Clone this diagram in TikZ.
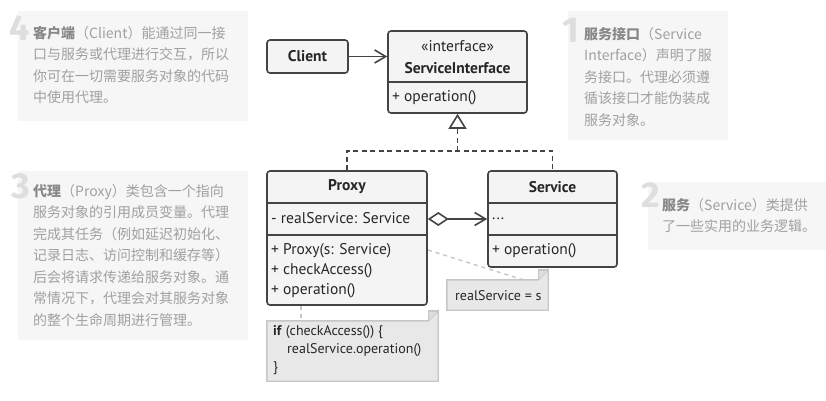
\documentclass[tikz,border=0pt]{standalone}
\usepackage{fontspec}
\setmainfont{PT Sans}
\newfontfamily\cjk{Noto Sans CJK SC}
\newfontfamily\numfont{Fira Sans}
\usetikzlibrary{arrows.meta}
\definecolor{umlline}{HTML}{444444}
\definecolor{umlfill}{HTML}{F4F4F4}
\definecolor{notefill}{HTML}{E8E8E8}
\definecolor{noteline}{HTML}{C6C6C6}
\definecolor{descbg}{HTML}{F6F6F6}
\definecolor{desctext}{HTML}{A0A0A0}
\definecolor{desctitle}{HTML}{888888}
\definecolor{numcol}{HTML}{DEDEDE}
\tikzset{
  umlbox/.style={draw=umlline, fill=umlfill, line width=1.6pt, rounded corners=3pt, inner sep=0pt},
  sep/.style={draw=umlline, line width=1.6pt},
  umltxt/.style={inner sep=0pt, font=\fontsize{15.5}{17}\selectfont, text=black!85},
  umltitle/.style={umltxt, font=\fontsize{15.5}{17}\selectfont\bfseries},
  conn/.style={draw=umlline, line width=1.6pt},
  realize/.style={conn, dash pattern=on 5pt off 3.5pt},
  notebox/.style={inner sep=0pt},
  notedraw/.style={draw=noteline, fill=notefill, line width=1.4pt},
  notetxt/.style={inner sep=0pt, font=\fontsize{14}{18}\selectfont, text=black!85, align=left},
  notelink/.style={draw=noteline, line width=1.4pt, dash pattern=on 4pt off 4pt},
  descbox/.style={fill=descbg, inner sep=0pt},
  desctxt/.style={inner sep=0pt, align=left, text=desctext, font=\cjk\fontsize{14}{21.5}\selectfont},
  numtxt/.style={inner sep=0pt, text=numcol, font=\numfont\fontsize{36}{36}\selectfont\bfseries},
}
\newcommand{\ttl}[1]{{\bfseries\color{desctitle}#1}}
\begin{document}
\begin{tikzpicture}[x=1pt,y=-1pt]
\useasboundingbox (0,0) rectangle (826,400);

% ---------- description boxes ----------
\node[descbox, minimum width=230, minimum height=110] (d4) at (133,66) {};
\node[numtxt, anchor=base east] (n4) at (30,40) {4};
\node[desctxt, anchor=north west] (t4) at (33,26) {\ttl{客户端}（Client）能通过同一接\\口与服务或代理进行交互，所以\\你可在一切需要服务对象的代码\\中使用代理。};

\node[descbox, minimum width=160, minimum height=129] (d1) at (648,75.5) {};
\node[numtxt, anchor=base east] (n1) at (579,42) {1};
\node[desctxt, anchor=north west] (t1) at (584,27) {\ttl{服务接口}（Service\\Interface）声明了服\\务接口。代理必须遵\\循该接口才能伪装成\\服务对象。};

\node[descbox, minimum width=230, minimum height=169] (d3) at (133,255.5) {};
\node[numtxt, anchor=base east] (n3) at (30,198) {3};
\node[desctxt, anchor=north west] (t3) at (33,184) {\ttl{代理}（Proxy）类包含一个指向\\服务对象的引用成员变量。代理\\完成其任务（例如延迟初始化、\\记录日志、访问控制和缓存等）\\后会将请求传递给服务对象。通\\常情况下，代理会对其服务对象\\的整个生命周期进行管理。};

\node[descbox, minimum width=178, minimum height=68] (d2) at (737,216) {};
\node[numtxt, anchor=base east] (n2) at (660,207) {2};
\node[desctxt, anchor=north west] (t2) at (662,198) {\ttl{服务}（Service）类提供\\了一些实用的业务逻辑。};

% ---------- UML boxes ----------
\node[umlbox, minimum width=81, minimum height=33] (client) at (307.5,56.5) {};
\node[umltitle] (clientlbl) at (client.center) {Client};

\node[umlbox, minimum width=139, minimum height=82] (si) at (457.5,72) {};
\draw[sep] (si.west |- 0,82) coordinate (sil) -- (si.east |- 0,82) coordinate (sir);
\node[umltxt] (sist) at (457.5,46) {«interface»};
\node[umltitle] (sinm) at (457.5,68) {ServiceInterface};
\node[umltxt, anchor=west] (siop) at (392,98) {+ operation()};

\node[umlbox, minimum width=160, minimum height=134] (proxy) at (347,238) {};
\draw[sep] (proxy.west |- 0,203) -- (proxy.east |- 0,203);
\draw[sep] (proxy.west |- 0,235) -- (proxy.east |- 0,235);
\node[umltitle] (pxnm) at (347,187) {Proxy};
\node[umltxt, anchor=west] (pxf) at (271,218.5) {- realService: Service};
\node[umltxt, anchor=west] (pxo1) at (271,251) {+ Proxy(s: Service)};
\node[umltxt, anchor=west] (pxo2) at (271,271) {+ checkAccess()};
\node[umltxt, anchor=west] (pxo3) at (271,291) {+ operation()};

\node[umlbox, minimum width=129, minimum height=96] (service) at (552.5,219) {};
\draw[sep] (service.west |- 0,203) -- (service.east |- 0,203);
\draw[sep] (service.west |- 0,235) -- (service.east |- 0,235);
\node[umltitle] (svnm) at (552.5,187) {Service};
\node[umltxt, anchor=west] (svf) at (492,218.5) {...};
\node[umltxt, anchor=west] (svo) at (492,251) {+ operation()};

% ---------- connectors ----------
\draw[conn, -{Straight Barb[length=11pt,width=13pt,line width=1.6pt]}] (client.east) -- (client.east -| si.west);
\coordinate (join) at (457.5,151);
\draw[realize] (proxy.north) |- (join) -| (service.north);
\draw[realize, -{Triangle[open,length=15pt,width=18pt,line width=1.6pt,fill=white]}] (join) -- (si.south);
\draw[conn, {Diamond[open,length=21pt,width=14pt,line width=1.6pt,fill=white]}-{Straight Barb[length=11pt,width=13pt,line width=1.6pt]}] (proxy.east |- 0,219) -- (service.west |- 0,219);

% ---------- notes ----------
\node[notebox, minimum width=101, minimum height=30] (note1) at (497.5,295) {};
\draw[notedraw] (note1.south west) |- ([xshift=-10pt]note1.north east) -- ([yshift=10pt]note1.north east) |- cycle;
\draw[notedraw, fill=noteline!60] ([xshift=-10pt]note1.north east) |- ([yshift=10pt]note1.north east);
\node[notetxt, anchor=west] (note1t) at (455,296) {realService = s};

\node[notebox, minimum width=171, minimum height=60] (note2) at (352.5,351) {};
\draw[notedraw] (note2.south west) |- ([xshift=-10pt]note2.north east) -- ([yshift=10pt]note2.north east) |- cycle;
\draw[notedraw, fill=noteline!60] ([xshift=-10pt]note2.north east) |- ([yshift=10pt]note2.north east);
\node[notetxt, anchor=north west] (note2t) at (273,325) {\textbf{if} (checkAccess()) \{\\\hspace*{14pt}realService.operation()\\\}};

\coordinate (pxlink) at (428,250);
\draw[notelink] (pxlink) -- ([xshift=-25pt]note1.north east);
\draw[notelink] (proxy.south -| 301,0) -- (note2.north -| 301,0);
\end{tikzpicture}
\end{document}
